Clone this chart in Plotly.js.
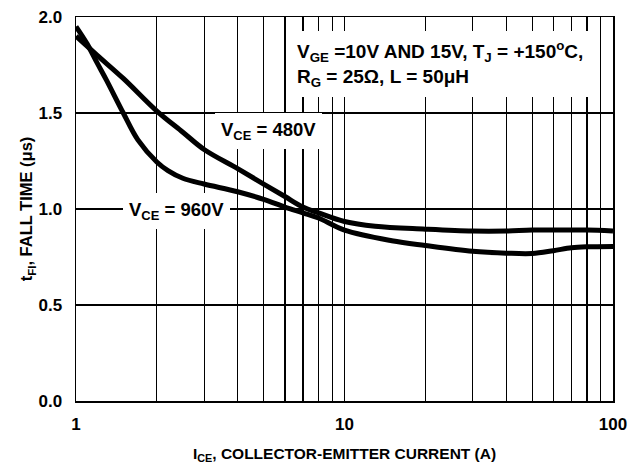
<!DOCTYPE html>
<html>
<head>
<meta charset="utf-8">
<script src="https://cdn.plot.ly/plotly-3.0.1.min.js"></script>
<style>html,body{margin:0;padding:0;background:#fff;}#chart{width:631px;height:466px;}</style>
</head>
<body>
<div id="chart"></div>
<script>
// Collector-emitter current (A)
const ice480 = [1, 1.2, 1.5, 2, 2.5, 3, 4, 5, 6, 7, 8, 10, 13, 20, 30, 40, 50, 70, 80, 100];
// Fall time (us) at VCE = 480V
const tfi480 = [1.90, 1.80, 1.68, 1.51, 1.40, 1.31, 1.21, 1.13, 1.065, 1.01, 0.98, 0.935, 0.91, 0.895, 0.885, 0.885, 0.89, 0.89, 0.89, 0.885];
const ice960 = [1, 1.1, 1.2, 1.3, 1.5, 1.7, 2, 2.2, 2.5, 3, 4, 5, 6, 7, 8, 10, 15, 20, 30, 40, 50, 60, 70, 80, 100];
// Fall time (us) at VCE = 960V
const tfi960 = [1.95, 1.86, 1.76, 1.67, 1.50, 1.36, 1.245, 1.20, 1.16, 1.13, 1.09, 1.05, 1.01, 0.98, 0.953, 0.89, 0.835, 0.81, 0.78, 0.77, 0.768, 0.783, 0.798, 0.803, 0.805];

const xTickVals = [1,2,3,4,5,6,7,8,9,10,20,30,40,50,60,70,80,90,100];
const xTickText = ['1','','','','','','','','','10','','','','','','','','','100'];
const yTickVals = [0, 0.5, 1.0, 1.5, 2.0];
const yTickText = ['0.0', '0.5', '1.0', '1.5', '2.0'];

const FONT = 'Liberation Sans, Arial, Helvetica, sans-serif';

const traces = [
  {x: ice480, y: tfi480, mode: 'lines', line: {color: '#000', width: 5, shape: 'spline', smoothing: 1}, hoverinfo: 'skip', showlegend: false},
  {x: ice960, y: tfi960, mode: 'lines', line: {color: '#000', width: 5, shape: 'spline', smoothing: 1}, hoverinfo: 'skip', showlegend: false}
];

const layout = {
  width: 631, height: 466,
  margin: {l: 76, r: 18, t: 17, b: 65, pad: 0},
  paper_bgcolor: '#fff', plot_bgcolor: '#fff',
  font: {family: FONT, color: '#000', size: 15, weight: 'bold'},
  showlegend: false,
  xaxis: {
    type: 'log', range: [0, 2],
    tickmode: 'array', tickvals: xTickVals, ticktext: xTickText,
    showgrid: true, gridcolor: '#000', gridwidth: 1.2,
    showline: true, linecolor: '#000', linewidth: 1.5, mirror: true,
    ticks: '', ticklabelstandoff: 7,
    tickfont: {family: FONT, size: 17, weight: 'bold', color: '#000'},
    zeroline: false,
    title: {text: 'I<sub>CE</sub>, COLLECTOR-EMITTER CURRENT (A)', font: {family: FONT, size: 15.5, weight: 'bold', color: '#000'}, standoff: 15}
  },
  yaxis: {
    range: [0, 2],
    tickmode: 'array', tickvals: yTickVals, ticktext: yTickText,
    showgrid: true, gridcolor: '#000', gridwidth: 1.2,
    showline: true, linecolor: '#000', linewidth: 1.5, mirror: true,
    ticks: '', ticklabelstandoff: 9,
    tickfont: {family: FONT, size: 17, weight: 'bold', color: '#000'},
    zeroline: false,
    title: {text: 't<sub>FI</sub>, FALL TIME (μs)', font: {family: FONT, size: 16.5, weight: 'bold', color: '#000'}, standoff: 1}
  },
  annotations: [
    {xref: 'paper', yref: 'paper', x: 0.398, y: 0.8776, xanchor: 'left', yanchor: 'middle', align: 'left',
     text: 'V<sub>GE</sub> =10V AND 15V, T<sub>J</sub> = +150<sup>o</sup>C,<br>R<sub>G</sub> = 25Ω, L = 50μH',
     showarrow: false, bgcolor: '#fff', borderpad: 7, borderwidth: 0,
     font: {family: FONT, size: 19, weight: 'bold', color: '#000'}},
    {xref: 'paper', yref: 'paper', x: 0.3594, y: 0.703, xanchor: 'center', yanchor: 'middle',
     text: 'V<sub>CE</sub> = 480V', showarrow: false, bgcolor: '#fff', borderpad: 6, borderwidth: 0,
     font: {family: FONT, size: 18.5, weight: 'bold', color: '#000'}},
    {xref: 'paper', yref: 'paper', x: 0.188, y: 0.495, xanchor: 'center', yanchor: 'middle',
     text: 'V<sub>CE</sub> = 960V', showarrow: false, bgcolor: '#fff', borderpad: 6, borderwidth: 0,
     font: {family: FONT, size: 18.5, weight: 'bold', color: '#000'}}
  ]
};

Plotly.newPlot('chart', traces, layout, {staticPlot: true, displayModeBar: false});
</script>
</body>
</html>
